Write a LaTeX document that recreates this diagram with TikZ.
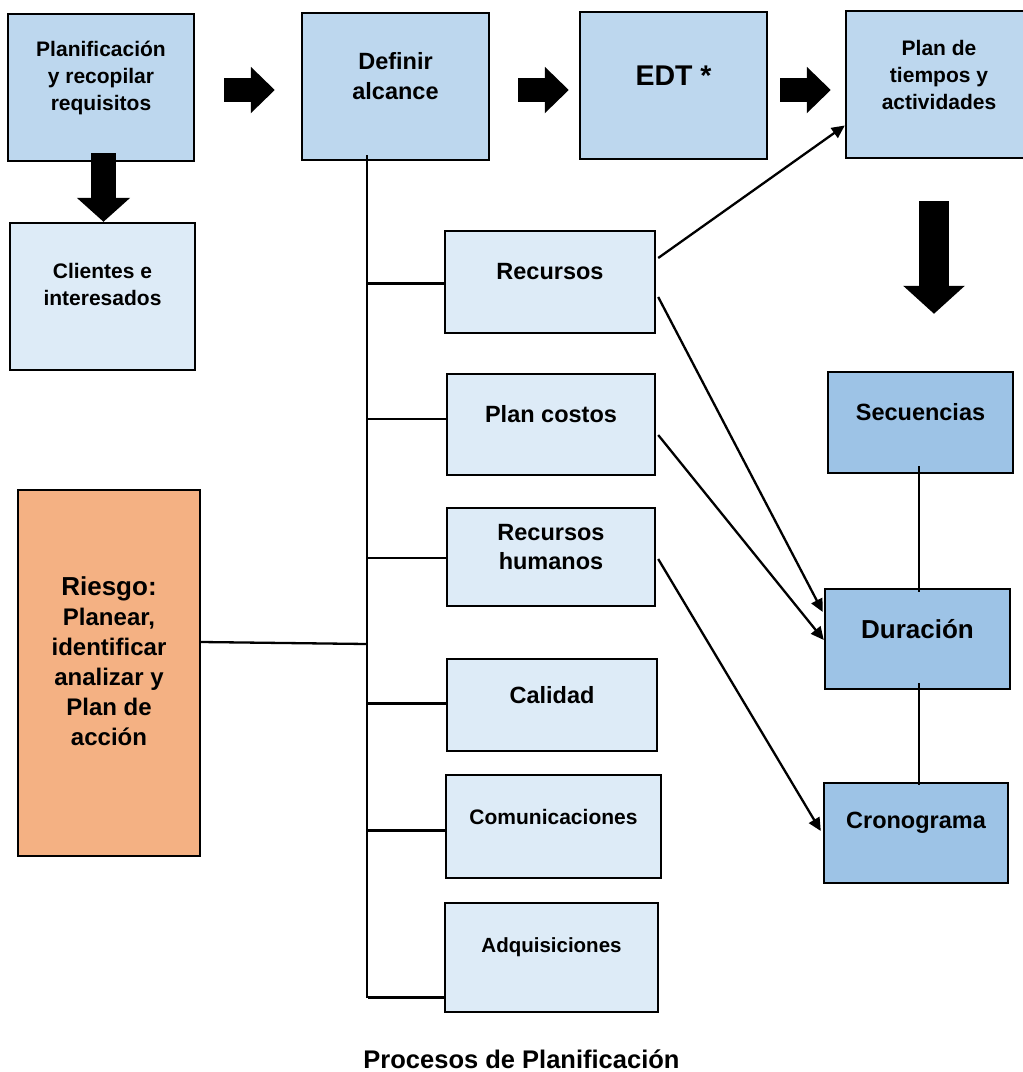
\documentclass[tikz,border=0pt]{standalone}
\usepackage{fontspec}
\setmainfont{Liberation Sans}
\usetikzlibrary{arrows.meta,calc}
\definecolor{boxdark}{HTML}{BDD7EE}
\definecolor{boxlight}{HTML}{DDEBF7}
\definecolor{boxmid}{HTML}{9DC3E6}
\definecolor{riskfill}{HTML}{F4B183}

\begin{document}
\begin{tikzpicture}[x=1pt,y=-1pt,>={Triangle[length=13pt,width=12pt]},
  box/.style 2 args={draw,line width=2.4pt,inner sep=0pt,minimum width=#1pt,minimum height=#2pt},
  lbl/.style 2 args={align=center,yshift=10pt,font=\bfseries\fontsize{#1}{#2}\selectfont},
  link/.style={line width=2.3pt},
  conn/.style={link,->},
  fat/.style={line width=24pt,-{Triangle[length=24pt,width=45pt]}},
  fatdown/.style={line width=25pt,-{Triangle[length=24pt,width=52pt]}},
  fatbig/.style={line width=30pt,-{Triangle[length=28pt,width=60pt]}}]
  \useasboundingbox (0,0) rectangle (1023,1072);

  % top row
  \node[box={186}{147},fill=boxdark,label={[lbl={21}{27}]center:{Planificación\\y recopilar\\requisitos}}] (plan) at (101,87.5) {};
  \node[box={185}{147},fill=boxlight,label={[lbl={21}{27},yshift=2pt]center:{Clientes e\\interesados}}] (clientes) at (102.5,296.5) {};
  \node[box={187}{147},fill=boxdark,label={[lbl={23.5}{30}]center:{Definir\\alcance}}] (definir) at (395.5,86.5) {};
  \node[box={187}{147},fill=boxdark,label={[lbl={28.5}{32}]center:{EDT *}}] (edt) at (673.5,85.5) {};
  \node[box={186}{147},fill=boxdark,label={[lbl={21}{27}]center:{Plan de\\tiempos y\\actividades}}] (tiempos) at (939,84.5) {};

  % ramas del alcance
  \node[box={210}{102},fill=boxlight,label={[lbl={23.5}{29}]center:{Recursos}}] (recursos) at (550,282) {};
  \node[box={208}{101},fill=boxlight,label={[lbl={23.5}{29}]center:{Plan costos}}] (costos) at (551,424.5) {};
  \node[box={208}{98},fill=boxlight,label={[lbl={23.5}{29}]center:{Recursos\\humanos}}] (rrhh) at (551,557) {};
  \node[box={210}{92},fill=boxlight,label={[lbl={23.5}{29}]center:{Calidad}}] (calidad) at (552,705) {};
  \node[box={215}{103},fill=boxlight,label={[lbl={21}{27}]center:{Comunicaciones}}] (comunic) at (553.5,826.5) {};
  \node[box={213}{109},fill=boxlight,label={[lbl={20.5}{27}]center:{Adquisiciones}}] (adquis) at (551.5,957.5) {};

  % tiempos
  \node[box={185}{101},fill=boxmid,label={[lbl={23.5}{29}]center:{Secuencias}}] (secuencias) at (920.5,422.5) {};
  \node[box={185}{100},fill=boxmid,label={[lbl={26}{30}]center:{Duración}}] (duracion) at (917.5,639) {};
  \node[box={184}{100},fill=boxmid,label={[lbl={23.5}{29}]center:{Cronograma}}] (cronograma) at (916,833) {};

  \node[box={182}{366},fill=riskfill,label={[lbl={24}{30},yshift=2pt]center:{{\fontsize{26}{30}\selectfont Riesgo:}\\Planear,\\identificar\\analizar y\\Plan de\\acción}}] (riesgo) at (109,673) {};

  \node[font=\bfseries\fontsize{25.5}{30}\selectfont] (titulo) at (521.5,1059) {Procesos de Planificación};

  % flechas gruesas
  \draw[fatdown] ([xshift=2.5pt,yshift=9pt]plan.south) -- ([xshift=2.5pt]plan.south |- clientes.north);
  \draw[fat] ([xshift=29pt,yshift=-2.5pt]plan.east) -- ([xshift=-26pt,yshift=-3.5pt]definir.west);
  \draw[fat] ([xshift=28pt,yshift=-3.5pt]definir.east) -- ([xshift=-10pt,yshift=-4.5pt]edt.west);
  \draw[fat] ([xshift=12pt,yshift=-4.5pt]edt.east) -- ([xshift=-14pt,yshift=-5.5pt]tiempos.west);
  \draw[fatbig] ([xshift=-5pt,yshift=-42pt]tiempos.south) -- ([xshift=-5pt,yshift=57pt]tiempos.south |- secuencias.north);

  % eje del alcance
  \coordinate (spinetop) at (367,155);
  \coordinate (spinebot) at (367,998);
  \draw[link] (spinetop) -- (spinebot);
  \foreach \n/\dy in {recursos/1.5,costos/-5.5,rrhh/1,calidad/-1.5,comunic/4,adquis/40}
    \draw[link] ($(spinetop |- \n.west)+(1,\dy)$) -- ($(\n.west)+(0,\dy)$);
  \draw[link] ($(riesgo.east)+(0,-31)$) -- ($(spinetop |- riesgo.east)+(0,-29)$);

  % conexiones
  \draw[conn] ($(recursos.east)+(2,-24)$) -- ($(tiempos.west)+(0,41)$);
  \draw[conn] ($(recursos.east)+(2,15)$) -- ($(duracion.west)+(-1,-27)$);
  \draw[conn] ($(costos.east)+(2,10.5)$) -- ($(duracion.west)+(0,1)$);
  \draw[conn] ($(rrhh.east)+(2,2)$) -- ($(cronograma.west)+(-2,-2)$);
  \draw[link] ([xshift=-1.5pt,yshift=8pt]secuencias.south) -- ([xshift=1.5pt,yshift=-4pt]duracion.north);
  \draw[link] ([xshift=1.5pt,yshift=7pt]duracion.south) -- ([xshift=3pt,yshift=-3pt]cronograma.north);
\end{tikzpicture}
\end{document}
